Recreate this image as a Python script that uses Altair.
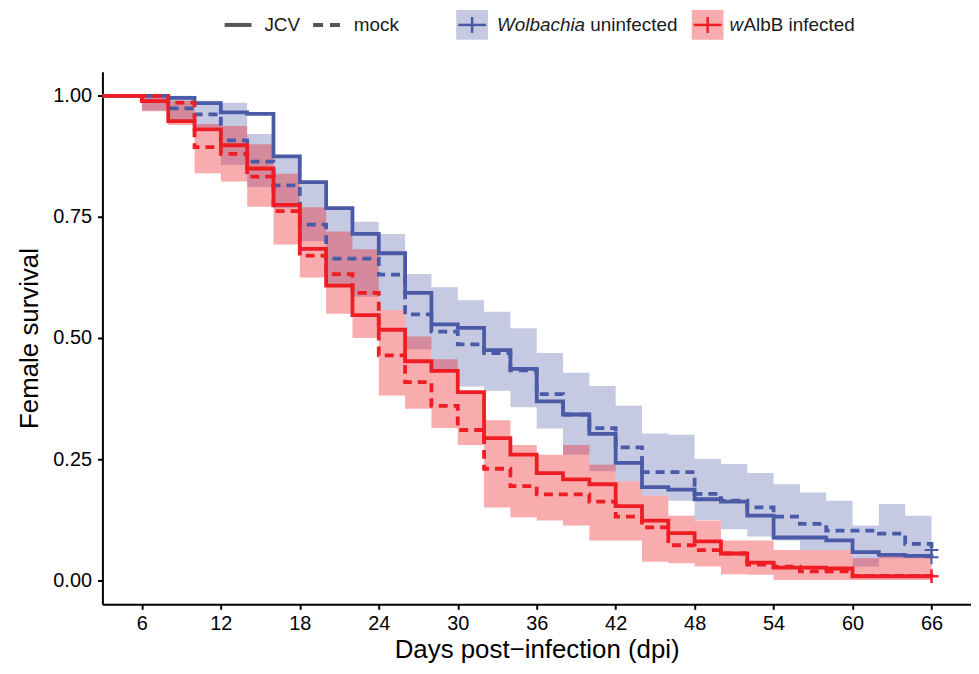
import altair as alt
import pandas as pd

# ---------------- data ----------------
days = [0, 6, 8, 10, 12, 14, 16, 18, 20, 22, 24, 26, 28, 30, 32, 34, 36, 38,
        40, 42, 44, 46, 48, 50, 52, 54, 56, 58, 60, 62, 64, 66]

blue_jcv = [1.0, 1.0, 0.996, 0.985, 0.966, 0.963, 0.875, 0.822, 0.768, 0.715,
            0.675, 0.593, 0.528, 0.521, 0.475, 0.436, 0.369, 0.342, 0.302, 0.242,
            0.192, 0.187, 0.167, 0.162, 0.133, 0.088, 0.088, 0.082, 0.058, 0.052,
            0.050, 0.047]
blue_mock = [1.0, 0.989, 0.974, 0.962, 0.908, 0.864, 0.815, 0.734, 0.664, 0.664,
             0.631, 0.549, 0.513, 0.487, 0.469, 0.433, 0.384, 0.342, 0.314, 0.274,
             0.223, 0.223, 0.178, 0.164, 0.150, 0.131, 0.116, 0.102, 0.102, 0.096,
             0.075, 0.062]
red_jcv = [1.0, 0.989, 0.948, 0.931, 0.898, 0.850, 0.775, 0.684, 0.608, 0.547,
           0.517, 0.452, 0.432, 0.388, 0.293, 0.259, 0.221, 0.208, 0.198, 0.153,
           0.123, 0.097, 0.080, 0.055, 0.036, 0.026, 0.026, 0.024, 0.008, 0.008,
           0.008, 0.008]
red_mock = [1.0, 1.0, 0.986, 0.894, 0.880, 0.833, 0.762, 0.670, 0.632, 0.593,
            0.464, 0.409, 0.360, 0.310, 0.230, 0.194, 0.177, 0.177, 0.162, 0.131,
            0.109, 0.072, 0.062, 0.055, 0.032, 0.028, 0.018, 0.018, 0.009, 0.009,
            0.009, 0.008]

blue_lo = [1.0, 0.970, 0.945, 0.931, 0.857, 0.812, 0.768, 0.700, 0.610, 0.585,
           0.558, 0.476, 0.436, 0.400, 0.391, 0.357, 0.313, 0.259, 0.225, 0.204,
           0.174, 0.164, 0.124, 0.105, 0.090, 0.082, 0.062, 0.062, 0.028, 0.045,
           0.045, 0.045]
blue_hi = [1.0, 1.0, 1.0, 0.990, 0.986, 0.921, 0.874, 0.820, 0.770, 0.740,
           0.715, 0.632, 0.605, 0.578, 0.554, 0.520, 0.469, 0.428, 0.401, 0.360,
           0.303, 0.300, 0.250, 0.240, 0.221, 0.198, 0.181, 0.164, 0.113, 0.157,
           0.133, 0.133]
red_lo = [1.0, 0.968, 0.940, 0.840, 0.823, 0.771, 0.693, 0.625, 0.550, 0.500,
          0.381, 0.354, 0.314, 0.279, 0.150, 0.130, 0.123, 0.113, 0.082, 0.082,
          0.038, 0.035, 0.028, 0.012, 0.011, 0.0, 0.0, 0.0, 0.0, 0.0,
          0.0, 0.0]
red_hi = [1.0, 1.0, 0.990, 0.942, 0.938, 0.900, 0.839, 0.770, 0.720, 0.683,
          0.558, 0.503, 0.456, 0.388, 0.330, 0.279, 0.259, 0.279, 0.238, 0.204,
          0.174, 0.133, 0.123, 0.082, 0.082, 0.062, 0.062, 0.062, 0.045, 0.050,
          0.050, 0.050]

x_ticks = [6, 12, 18, 24, 30, 36, 42, 48, 54, 60, 66]
y_ticks = [0.0, 0.25, 0.5, 0.75, 1.0]
x_title = "Days post\u2212infection (dpi)"
y_title = "Female survival"
status_names = ["Wolbachia uninfected", "wAlbB infected"]
treat_names = ["JCV", "mock"]

# ---------------- styling ----------------
BLUE = "#4A5AA6"
RED = "#EE1D24"
BLUE_FILL_OP = 0.32
RED_FILL_OP = 0.37
FONT = "Liberation Sans"

# ---------------- tables ----------------
lines = []
for status, treat, vals in [
    (status_names[0], "JCV", blue_jcv),
    (status_names[0], "mock", blue_mock),
    (status_names[1], "JCV", red_jcv),
    (status_names[1], "mock", red_mock),
]:
    for d, v in zip(days, vals):
        lines.append({"day": d, "surv": v, "status": status, "treat": treat,
                      "series": status + " " + treat})
lines_df = pd.DataFrame(lines)
ends_df = lines_df[lines_df["day"] == days[-1]]

bands = []
for status, lo, hi in [(status_names[0], blue_lo, blue_hi),
                       (status_names[1], red_lo, red_hi)]:
    for d, a, b in zip(days, lo, hi):
        bands.append({"day": d, "lo": a, "hi": b, "status": status})
bands_df = pd.DataFrame(bands)

W, H = 874, 536
xs = alt.Scale(domain=[3, 69], nice=False, zero=False)
ys = alt.Scale(domain=[-0.05, 1.05], nice=False, zero=False)
color_scale = alt.Scale(domain=status_names, range=[BLUE, RED])

xaxis = alt.Axis(values=x_ticks, title=x_title, grid=False, tickSize=5,
                 labelPadding=4, labelFontSize=20, titleFontSize=26,
                 titleFontWeight="normal", domainColor="black", tickColor="black",
                 labelColor="black", titleColor="black", domainWidth=2, tickWidth=2,
                 titleBaseline="middle", titleY=45, labelFont=FONT, titleFont=FONT)
yaxis = alt.Axis(values=y_ticks, format=".2f", title=y_title, grid=False, tickSize=5,
                 labelPadding=6, labelFontSize=20, titleFontSize=26,
                 titleFontWeight="normal", domainColor="black", tickColor="black",
                 labelColor="black", titleColor="black", domainWidth=2, tickWidth=2,
                 titleAngle=-90, titleBaseline="middle", titleAlign="center",
                 titleX=-73, titleY=H / 2, labelFont=FONT, titleFont=FONT)

X = alt.X("day:Q", scale=xs, axis=xaxis)

def band(status, op):
    return alt.Chart(bands_df[bands_df["status"] == status]).mark_area(
        interpolate="step-after", opacity=op, clip=True
    ).encode(
        x=X,
        y=alt.Y("lo:Q", scale=ys, axis=yaxis),
        y2="hi:Q",
        color=alt.Color("status:N", scale=color_scale, legend=None),
    )

blue_band = band(status_names[0], BLUE_FILL_OP)
red_band = band(status_names[1], RED_FILL_OP)

def curve(status):
    return alt.Chart(lines_df[lines_df["status"] == status]).mark_line(
        interpolate="step-after", strokeWidth=3.8, clip=True, strokeCap="butt"
    ).encode(
        x=X,
        y=alt.Y("surv:Q", scale=ys, axis=yaxis),
        color=alt.Color("status:N", scale=color_scale, legend=None),
        strokeDash=alt.StrokeDash("treat:N", scale=alt.Scale(domain=treat_names,
                                  range=[[1, 0], [9, 6]]), legend=None),
        detail="series:N",
    )

blue_lines = curve(status_names[0])
red_lines = curve(status_names[1])

crosses = alt.Chart(ends_df).mark_point(
    shape="M-1,0H1M0,-1V1", filled=False, size=190, strokeWidth=2, opacity=1
).encode(
    x=X,
    y=alt.Y("surv:Q", scale=ys, axis=yaxis),
    color=alt.Color("status:N", scale=color_scale, legend=None),
)

# ---------------- manual legend (decoration) ----------------
one = pd.DataFrame({"k": [0]})
LY = -47
TXT = dict(fontSize=19, font=FONT, color="#1a1a1a", baseline="middle", align="left")

leg = [
    alt.Chart(one).mark_rule(color="#555555", strokeWidth=4).encode(
        x=alt.value(123), x2=alt.value(150), y=alt.value(LY)),
    alt.Chart(one).mark_text(text="JCV", **TXT).encode(x=alt.value(163), y=alt.value(LY)),
    alt.Chart(one).mark_rule(color="#555555", strokeWidth=4, strokeDash=[10, 7]).encode(
        x=alt.value(212), x2=alt.value(239), y=alt.value(LY)),
    alt.Chart(one).mark_text(text="mock", **TXT).encode(x=alt.value(253), y=alt.value(LY)),
    # blue key
    alt.Chart(one).mark_rect(color=BLUE, opacity=BLUE_FILL_OP).encode(
        x=alt.value(356), x2=alt.value(388), y=alt.value(LY - 15), y2=alt.value(LY + 15)),
    alt.Chart(one).mark_rule(color=BLUE, strokeWidth=2.5).encode(
        x=alt.value(358), x2=alt.value(386), y=alt.value(LY)),
    alt.Chart(one).mark_rule(color=BLUE, strokeWidth=2.5).encode(
        x=alt.value(372), y=alt.value(LY - 8), y2=alt.value(LY + 8)),
    alt.Chart(one).mark_text(text="Wolbachia", fontStyle="italic", **TXT).encode(
        x=alt.value(397), y=alt.value(LY)),
    alt.Chart(one).mark_text(text="uninfected", **TXT).encode(
        x=alt.value(491), y=alt.value(LY)),
    # red key
    alt.Chart(one).mark_rect(color=RED, opacity=RED_FILL_OP).encode(
        x=alt.value(593), x2=alt.value(625), y=alt.value(LY - 15), y2=alt.value(LY + 15)),
    alt.Chart(one).mark_rule(color=RED, strokeWidth=2.5).encode(
        x=alt.value(595), x2=alt.value(623), y=alt.value(LY)),
    alt.Chart(one).mark_rule(color=RED, strokeWidth=2.5).encode(
        x=alt.value(609), y=alt.value(LY - 8), y2=alt.value(LY + 8)),
    alt.Chart(one).mark_text(text="w", fontStyle="italic", **TXT).encode(
        x=alt.value(631), y=alt.value(LY)),
    alt.Chart(one).mark_text(text="AlbB infected", **TXT).encode(
        x=alt.value(645), y=alt.value(LY)),
]

chart = alt.layer(
    blue_band, red_band, blue_lines, red_lines, crosses, *leg
).properties(
    width=W, height=H,
    autosize=alt.AutoSizeParams(type="none"),
    padding={"left": 95, "top": 62, "right": 0, "bottom": 60},
).configure(font=FONT, background="white").configure_view(stroke=None)

chart.save("out.html", embed_options={"renderer": "svg", "actions": False})
